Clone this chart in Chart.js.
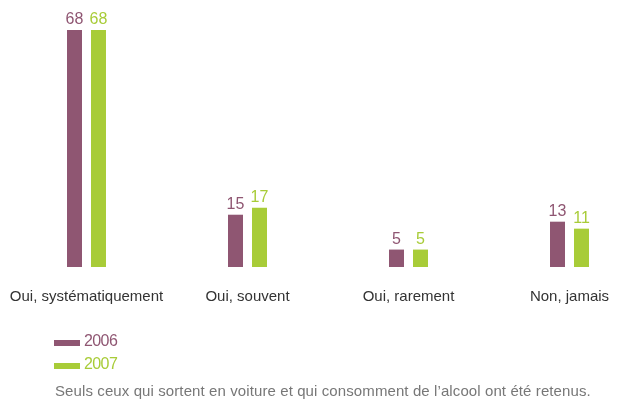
<!DOCTYPE html>
<html>
<head>
<meta charset="utf-8">
<script src="https://cdn.jsdelivr.net/npm/chart.js@4.4.1/dist/chart.umd.min.js"></script>
<style>
  body { margin: 0; background: #fff; font-family: "Liberation Sans", Arial, sans-serif; }
  #wrap { position: relative; width: 619px; height: 400px; }
  canvas { position: absolute; left: 0; top: 0; }
  #legend { position: absolute; left: 54px; top: 331px; font-size: 16px; letter-spacing: -0.6px; }
  .item { height: 23px; line-height: 20px; }
  .swatch { display: inline-block; width: 26px; height: 6px; vertical-align: baseline; margin-right: 4px; }
  #note { position: absolute; left: 55px; top: 382px; font-size: 15px; letter-spacing: 0.1px; color: #777; white-space: nowrap; }
</style>
</head>
<body>
<div id="wrap">
  <canvas id="myChart" width="619" height="400"></canvas>
  <div id="legend"></div>
  <div id="note">Seuls ceux qui sortent en voiture et qui consomment de l’alcool ont été retenus.</div>
</div>
<script>
// valeurs (%)
const categories = ['Oui, systématiquement', 'Oui, souvent', 'Oui, rarement', 'Non, jamais'];
const years = ['2006', '2007'];
const values2006 = [68, 15, 5, 13];
const values2007 = [68, 17, 5, 11];
const colors = ['#8f5672', '#a8cc38'];

const fontName = '"Liberation Sans", Arial, sans-serif';

// chiffres au-dessus des barres
const valueLabels = {
  id: 'valueLabels',
  afterDatasetsDraw(chart) {
    const ctx = chart.ctx;
    ctx.save();
    ctx.font = '16px ' + fontName;
    ctx.textAlign = 'center';
    ctx.textBaseline = 'alphabetic';
    chart.data.datasets.forEach((ds, i) => {
      chart.getDatasetMeta(i).data.forEach((bar, j) => {
        ctx.fillStyle = ds.backgroundColor;
        ctx.fillText(ds.data[j], bar.x, bar.y - 6);
      });
    });
    ctx.restore();
  }
};

const chart = new Chart('myChart', {
  type: 'bar',
  data: {
    // ligne vide devant chaque libellé pour les descendre sous l'axe
    labels: categories.map(c => ['', c]),
    datasets: [
      { label: years[0], data: values2006, backgroundColor: colors[0], clip: false },
      { label: years[1], data: values2007, backgroundColor: colors[1], clip: false }
    ]
  },
  options: {
    responsive: false,
    animation: false,
    layout: { padding: { left: 86.5, right: 49.5, top: 23, bottom: 91 } },
    categoryPercentage: 0.298,
    barPercentage: 0.625,
    plugins: { legend: { display: false }, tooltip: { enabled: false } },
    scales: {
      x: {
        offset: false,
        grid: { display: false, drawTicks: false },
        border: { display: false },
        ticks: { color: '#333', padding: 3, maxRotation: 0, autoSkip: false, font: { family: fontName, size: 15 } }
      },
      y: { display: false, min: 0, max: 70 }
    }
  },
  plugins: [valueLabels]
});

// légende
const legend = document.getElementById('legend');
years.forEach((y, i) => {
  const d = document.createElement('div');
  d.className = 'item';
  d.style.color = colors[i];
  d.innerHTML = '<span class="swatch" style="background:' + colors[i] + '"></span>' + y;
  legend.appendChild(d);
});
</script>
</body>
</html>
